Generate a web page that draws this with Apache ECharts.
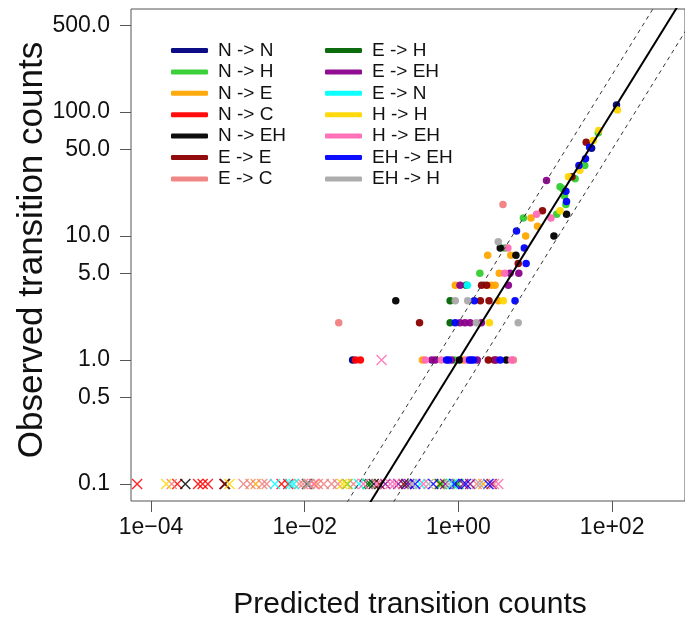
<!DOCTYPE html>
<html>
<head>
<meta charset="utf-8">
<script src="https://cdn.jsdelivr.net/npm/echarts@6/dist/echarts.min.js"></script>
<style>
  html, body { margin: 0; padding: 0; background: #ffffff; }
  #chart { width: 685px; height: 621px; }
</style>
</head>
<body>
<div id="chart"></div>
<script>
// Transition types, in legend order, with their colours
const transitionNames = ['N -> N', 'N -> H', 'N -> E', 'N -> C', 'N -> EH', 'E -> E', 'E -> C',
                         'E -> H', 'E -> EH', 'E -> N', 'H -> H', 'H -> EH', 'EH -> EH', 'EH -> H'];
const transitionColors = ['#000080', '#32CD32', '#FFA500', '#FF0000', '#000000', '#8B0000', '#F08080',
                          '#006400', '#8B008B', '#00FFFF', '#FFD700', '#FF69B4', '#0000FF', '#A9A9A9'];

// Observed (non-zero) counts: [predicted, observed]
const obsNN  = [[114, 114], [54, 51], [0.042, 1]];
const obsNH  = [[66, 68], [44, 37], [33, 29], [21, 25], [23, 24], [24, 21], [25, 18], [19, 15], [7, 14], [4, 8], [1.9, 5], [0.89, 1]];
const obsNE  = [[8.8, 14], [10.7, 12], [7.5, 10], [2.4, 7], [4.8, 7], [3.4, 5], [0.91, 4], [2.68, 4], [3.0, 4], [3.3, 3], [0.34, 1], [1.16, 1]];
const obsNC  = [[0.046, 1], [0.053, 1]];
const obsNEH = [[25.5, 15], [17.5, 10], [3.5, 8], [5.6, 7], [0.153, 3], [1.03, 1], [4.2, 1]];
const obsEE  = [[46, 57], [30, 30], [12.4, 16], [6, 6], [2.0, 4], [2.33, 4], [1.93, 3], [2.5, 3], [0.312, 2], [2.45, 1], [2.93, 1]];
const obsEC  = [[3.8, 18], [0.0277, 2], [5.2, 1]];
const obsEH  = [[1.26, 4], [0.78, 3], [0.78, 2]];
const obsEEH = [[14, 28], [4.7, 5], [6.1, 5], [1.05, 4], [4.46, 4], [1.05, 2], [1.22, 2], [1.42, 2], [1.99, 2],
                [0.45, 1], [0.50, 1], [0.81, 1], [1.76, 1], [3.1, 1]];
const obsEN  = [[1.31, 4]];
const obsHH  = [[117, 104], [67, 71], [57, 59], [38, 34], [27, 30], [21, 16], [3.84, 3], [2.53, 2]];
const obsHEH = [[10.4, 15], [16, 14], [4.4, 8], [4, 5], [0.37, 1], [0.60, 1], [1.27, 1], [4.9, 1]];
const obsEHEH = [[51, 52], [45, 42], [37, 37], [25, 23], [25.5, 19], [5.7, 11], [7.2, 8], [7.6, 6], [1.61, 3], [5.45, 3],
                 [0.91, 2], [0.70, 1], [0.74, 1], [1.39, 1], [1.47, 1], [1.57, 1], [3.5, 1]];
const obsEHH = [[3.3, 9], [0.91, 3], [1.32, 3], [1.71, 2], [6.0, 2]];

// Crossed marks: [predicted, observed]; zero observations sit on the 0.1 floor
const crossNN  = [[0.95, 0.1], [0.21, 0.1]];
const crossNH  = [[1.0, 0.1], [0.036, 0.1], [0.61, 0.1]];
const crossNE  = [[0.0023, 0.1], [2.11, 0.1], [0.56, 0.1], [0.0135, 0.1]];
const crossNC  = [[0.000066, 0.1], [0.00022, 0.1], [0.00041, 0.1], [0.00047, 0.1], [0.00055, 0.1], [0.0050, 0.1], [0.0061, 0.1]];
const crossNEH = [[0.00028, 0.1], [0.00092, 0.1], [0.0107, 0.1], [0.079, 0.1]];
const crossEE  = [[0.00090, 0.1], [0.193, 0.1], [0.094, 0.1]];
const crossEC  = [[0.000186, 0.1], [0.0016, 0.1], [0.00197, 0.1], [0.0028, 0.1], [0.0032, 0.1], [0.0085, 0.1], [0.0115, 0.1],
                  [0.0148, 0.1], [0.0177, 0.1], [0.0224, 0.1], [0.027, 0.1], [0.043, 0.1], [0.0095, 0.1], [1.73, 0.1], [2.9, 0.1]];
const crossEH  = [[0.066, 0.1], [0.578, 0.1], [0.071, 0.1]];
const crossEEH = [[0.112, 0.1], [0.229, 0.1], [0.672, 0.1], [1.16, 0.1], [1.42, 0.1], [2.7, 0.1], [0.165, 0.1]];
const crossEN  = [[0.0041, 0.1], [0.0065, 0.1], [0.051, 0.1], [0.318, 0.1], [0.84, 0.1], [0.0072, 0.1]];
const crossHH  = [[0.000158, 0.1], [0.00105, 0.1], [0.0308, 0.1], [0.0345, 0.1]];
const crossHEH = [[0.0131, 0.1], [0.086, 0.1], [0.148, 0.1], [0.13, 0.1], [0.35, 0.1], [3.3, 0.1], [0.058, 0.1], [0.1, 1]];
const crossEHEH = [[0.274, 0.1], [0.888, 0.1], [2.45, 0.1], [1.25, 0.1], [0.47, 0.1]];
const crossEHH = [[0.0110, 0.1], [0.408, 0.1], [0.25, 0.1], [0.75, 0.1], [1.9, 0.1]];

const obsSets = [obsNN, obsNH, obsNE, obsNC, obsNEH, obsEE, obsEC, obsEH, obsEEH, obsEN, obsHH, obsHEH, obsEHEH, obsEHH];
const crossSets = [crossNN, crossNH, crossNE, crossNC, crossNEH, crossEE, crossEC, crossEH, crossEEH, crossEN, crossHH, crossHEH, crossEHEH, crossEHH];

// Axis ticks
const xTicks = [1e-4, 1e-2, 1, 100];
const yTicks = [0.1, 0.5, 1, 5, 10, 50, 100, 500];

// Reference lines: observed = predicted, and a factor of two either side
const refSpan = [1e-6, 1e4];
const refFactors = [1, 2, 0.5];

const FONT = '"Liberation Sans", Arial, sans-serif';
const CROSS = 'path://M0,0L10,10M10,0L0,10';

function expLabel(v) {
  const e = Math.round(Math.log10(v));
  return '1e' + (e < 0 ? '\u2212' : '+') + String(Math.abs(e)).padStart(2, '0');
}

const series = [];
transitionNames.forEach((name, i) => {
  series.push({
    name, type: 'scatter', symbol: 'circle', symbolSize: 7.5,
    itemStyle: { color: transitionColors[i], opacity: 0.95 },
    emphasis: { disabled: true },
    data: obsSets[i], z: 3
  });
});
transitionNames.forEach((name, i) => {
  series.push({
    name, type: 'scatter', symbol: CROSS, symbolSize: 10,
    itemStyle: { color: 'rgba(0,0,0,0)', borderColor: transitionColors[i], borderWidth: 1.4, opacity: 0.85 },
    emphasis: { disabled: true },
    data: crossSets[i], z: 3
  });
});
refFactors.forEach((f) => {
  series.push({
    type: 'line', silent: true, symbol: 'none', clip: true,
    lineStyle: f === 1 ? { color: '#000', width: 2 } : { color: '#333', width: 1, type: [4, 4] },
    data: refSpan.map(v => [v, v * f]), z: 4
  });
});

const legendBase = {
  orient: 'vertical', icon: 'roundRect', itemWidth: 37, itemHeight: 5, itemGap: 2.4,
  selectedMode: false,
  textStyle: { fontFamily: FONT, fontSize: 19, color: '#111', lineHeight: 17, padding: [0, 0, 0, 5] }
};

const chart = echarts.init(document.getElementById('chart'), null, { renderer: 'canvas' });
chart.setOption({
  animation: false,
  backgroundColor: '#ffffff',
  grid: { left: 131, right: -1, top: 9, bottom: 120, show: true, borderColor: '#555', borderWidth: 1, backgroundColor: 'transparent' },
  xAxis: {
    type: 'log', logBase: 10, min: Math.pow(10, -4.26), max: Math.pow(10, 2.948),
    axisLine: { show: false },
    splitLine: { show: false },
    axisTick: { show: true, length: 11, lineStyle: { color: '#555' }, customValues: xTicks },
    axisLabel: { customValues: xTicks, formatter: expLabel, fontFamily: FONT, fontSize: 23, color: '#111', margin: 15 },
    minorTick: { show: false }
  },
  yAxis: {
    type: 'log', logBase: 10, min: Math.pow(10, -1.137), max: Math.pow(10, 2.831),
    axisLine: { show: false },
    splitLine: { show: false },
    axisTick: { show: true, length: 11, lineStyle: { color: '#555' }, customValues: yTicks },
    axisLabel: { customValues: yTicks, formatter: v => v.toFixed(1), fontFamily: FONT, fontSize: 23, color: '#111', margin: 21 },
    minorTick: { show: false }
  },
  legend: [
    Object.assign({}, legendBase, { left: 166, top: 36, data: transitionNames.slice(0, 7) }),
    Object.assign({}, legendBase, { left: 320, top: 36, data: transitionNames.slice(7) })
  ],
  graphic: [
    { type: 'text', x: 32, y: 250, rotation: Math.PI / 2,
      style: { text: 'Observed transition counts', font: '35px ' + FONT, fill: '#111', align: 'center', verticalAlign: 'middle' } },
    { type: 'text', x: 410, y: 605,
      style: { text: 'Predicted transition counts', font: '30px ' + FONT, fill: '#111', align: 'center', verticalAlign: 'middle' } }
  ],
  series
});
</script>
</body>
</html>
